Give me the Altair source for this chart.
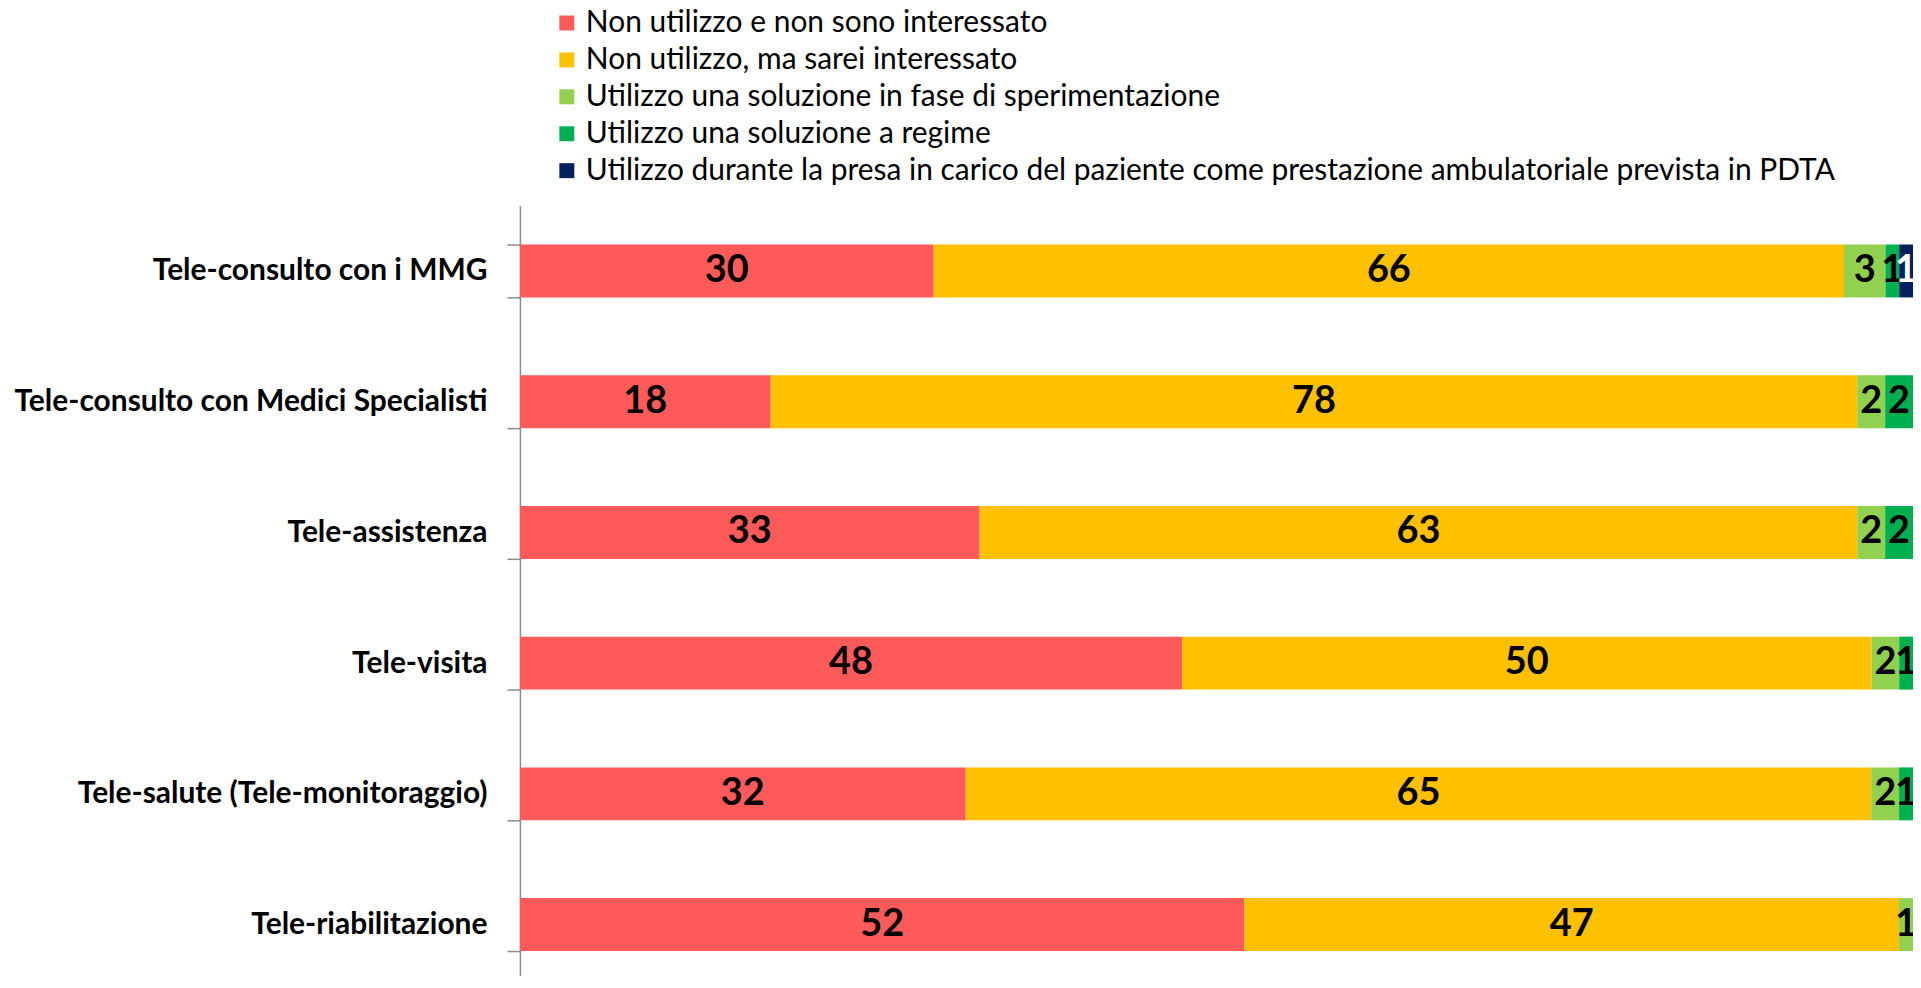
import altair as alt
import pandas as pd

categories = [
    "Tele-consulto con i MMG",
    "Tele-consulto con Medici Specialisti",
    "Tele-assistenza",
    "Tele-visita",
    "Tele-salute (Tele-monitoraggio)",
    "Tele-riabilitazione",
]
series = [
    "Non utilizzo e non sono interessato",
    "Non utilizzo, ma sarei interessato",
    "Utilizzo una soluzione in fase di sperimentazione",
    "Utilizzo una soluzione a regime",
    "Utilizzo durante la presa in carico del paziente come prestazione ambulatoriale prevista in PDTA",
]
colors = ["#FF5A5A", "#FFC000", "#92D050", "#00B050", "#002060"]
label_colors = ["black", "black", "black", "black", "white"]

s1 = [30, 18, 33, 48, 32, 52]
s2 = [66, 78, 63, 50, 65, 47]
s3 = [3, 2, 2, 2, 2, 1]
s4 = [1, 2, 2, 1, 1, 0]
s5 = [1, 0, 0, 0, 0, 0]
values = [s1, s2, s3, s4, s5]

rows = []
for si, (name, vals) in enumerate(zip(series, values)):
    for ci, cat in enumerate(categories):
        if vals[ci] > 0:
            rows.append({"cat": cat, "series": name, "ord": si, "value": vals[ci],
                         "lc": label_colors[si]})
df = pd.DataFrame(rows)

FONT = "Lato"

base = alt.Chart(df).transform_stack(
    stack="value", groupby=["cat"], as_=["x0", "x1"], offset="normalize",
    sort=[alt.SortField("ord", order="ascending")]
).transform_calculate(mid="(datum.x0 + datum.x1) / 2")

yenc = alt.Y("cat:N", sort=categories, title=None,
             scale=alt.Scale(paddingInner=0.595, paddingOuter=0.2975),
             axis=alt.Axis(labelFont=FONT, labelFontSize=30, labelFontWeight="bold",
                           labelColor="black", labelPadding=20, tickSize=13,
                           tickColor="#8c8c8c", domainColor="#8c8c8c",
                           tickWidth=1.5, domainWidth=1.5, tickBand="extent",
                           labelLimit=0))

bars = base.mark_bar().encode(
    x=alt.X("x0:Q", axis=None, scale=alt.Scale(domain=[0, 1], nice=False)),
    x2="x1:Q",
    y=yenc,
    color=alt.Color("series:N", scale=alt.Scale(domain=series, range=colors),
                    legend=alt.Legend(orient="none", legendX=32, legendY=-198,
                                      direction="vertical", title=None,
                                      symbolType="square", symbolSize=225,
                                      symbolStrokeWidth=0,
                                      labelFont=FONT, labelFontSize=30,
                                      labelColor="black", labelLimit=0,
                                      labelOffset=4, rowPadding=7, padding=0)),
)

labels = base.mark_text(font=FONT, fontSize=38, fontWeight="bold").encode(
    x=alt.X("mid:Q", scale=alt.Scale(domain=[0, 1], nice=False)),
    y=alt.Y("cat:N", sort=categories),
    text="value:Q",
    color=alt.Color("lc:N", scale=None),
)

chart = alt.layer(bars, labels).properties(
    width=1396, height=786,
    padding={"left": 513, "top": 197, "right": 0, "bottom": -15},
    autosize=alt.AutoSizeParams(type="none"),
).configure_view(stroke=None)

chart.save("out.html", embed_options={"renderer": "svg", "actions": False})
